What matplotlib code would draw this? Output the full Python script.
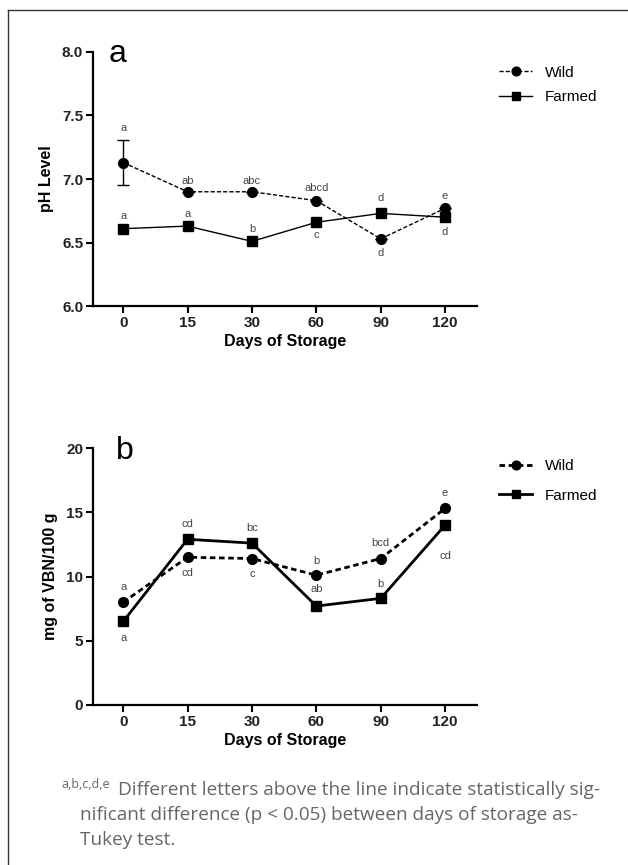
import numpy as np
import matplotlib.pyplot as plt
from matplotlib.lines import Line2D

plt.rcParams['font.family'] = ['Liberation Sans', 'DejaVu Sans']

# Datos
days = ['0', '15', '30', '60', '90', '120']

ph_wild = [7.13, 6.90, 6.90, 6.83, 6.53, 6.77]
ph_wild_err = [0.18, 0, 0, 0, 0, 0]
ph_farmed = [6.61, 6.63, 6.51, 6.66, 6.73, 6.70]
ph_wild_letters = ['a', 'ab', 'abc', 'abcd', 'd', 'e']
ph_farmed_letters = ['a', 'a', 'b', 'c', 'd', 'd']

vbn_wild = [8.0, 11.5, 11.4, 10.1, 11.4, 15.3]
vbn_farmed = [6.5, 12.9, 12.6, 7.7, 8.3, 14.0]
vbn_wild_letters = ['a', 'cd', 'c', 'b', 'bcd', 'e']
vbn_farmed_letters = ['a', 'cd', 'bc', 'ab', 'b', 'cd']

x = np.arange(len(days))
lbl_color = '#444444'

fig = plt.figure(figsize=(6.28, 8.65), dpi=100)


def style_axes(ax, ylim, yticks, fmt):
    ax.set_xlim(-0.47, 5.5)
    ax.set_ylim(*ylim)
    ax.set_xticks(x)
    ax.set_xticklabels(days)
    ax.set_yticks(yticks)
    ax.set_yticklabels([fmt.format(v) for v in yticks])
    for s in ['top', 'right']:
        ax.spines[s].set_visible(False)
    for s in ['left', 'bottom']:
        ax.spines[s].set_linewidth(1.6)
    ax.tick_params(width=1.5, length=5, direction='out', labelsize=11, pad=2)
    for t in ax.get_xticklabels() + ax.get_yticklabels():
        t.set_fontweight('bold')
        t.set_color('#222222')
    ax.set_xlabel('Days of Storage', fontsize=11.5, fontweight='bold', labelpad=3)


def put_letters(ax, ys, letters, offsets):
    for xi, yi, txt, off in zip(x, ys, letters, offsets):
        ax.annotate(txt, (xi, yi), xytext=(0, off), textcoords='offset points',
                    ha='center', va='center', fontsize=8, color=lbl_color)


# Panel a
ax1 = fig.add_axes([0.148, 0.646, 0.612, 0.294])
ax1.errorbar(x, ph_wild, yerr=ph_wild_err, color='black', lw=1, ls=(0, (3, 1.5)),
             marker='o', ms=7, capsize=4, elinewidth=1)
ax1.plot(x, ph_farmed, color='black', lw=1, marker='s', ms=7)
style_axes(ax1, (6.0, 8.0), [6.0, 6.5, 7.0, 7.5, 8.0], '{:.1f}')
ax1.set_ylabel('pH Level', fontsize=11.5, fontweight='bold', labelpad=6)
put_letters(ax1, ph_wild, ph_wild_letters, [25, 8, 8, 9, -10, 9])
put_letters(ax1, ph_farmed, ph_farmed_letters, [9, 9, 9, -9, 11, -11])
ax1.text(0.04, 0.99, 'a', transform=ax1.transAxes, fontsize=23, va='center')
h_wild = Line2D([], [], color='black', lw=1, ls=(0, (3, 1.5)), marker='o', ms=7)
h_farm = Line2D([], [], color='black', lw=1, marker='s', ms=7)
ax1.legend([h_wild, h_farm], ['Wild', 'Farmed'], loc='upper left',
           bbox_to_anchor=(1.02, 1.0), frameon=False, fontsize=11,
           handlelength=2.2, labelspacing=0.7, markerscale=0.9)

# Panel b
ax2 = fig.add_axes([0.148, 0.185, 0.612, 0.297])
ax2.plot(x, vbn_wild, color='black', lw=2, ls=(0, (2, 1.3)), marker='o', ms=7, label='Wild')
ax2.plot(x, vbn_farmed, color='black', lw=2, marker='s', ms=7, label='Farmed')
style_axes(ax2, (0, 20), [0, 5, 10, 15, 20], '{:d}')
ax2.set_ylabel('mg of VBN/100 g', fontsize=11.5, fontweight='bold', labelpad=6)
put_letters(ax2, vbn_wild, vbn_wild_letters, [11, -11, -11, 10, 11, 11])
put_letters(ax2, vbn_farmed, vbn_farmed_letters, [-12, 11, 11, 12, 10, -22])
ax2.text(0.06, 0.99, 'b', transform=ax2.transAxes, fontsize=23, va='center')
ax2.legend(loc='upper left', bbox_to_anchor=(1.02, 1.01), frameon=False,
           fontsize=11, handlelength=2.2, labelspacing=1.0, markerscale=0.9)

# Marco
fx, fy = 8 / 628, 1 - 10 / 865
fig.add_artist(Line2D([fx, fx], [0, fy], color='#333333', lw=1))
fig.add_artist(Line2D([fx, 1], [fy, fy], color='#333333', lw=1))

# Nota al pie
cap_color = '#666666'
cap_font = ['Open Sans', 'DejaVu Sans']
fig.text(61 / 628, 1 - 785 / 865, 'a,b,c,d,e', fontsize=9, color=cap_color,
         family=cap_font, va='center')
fig.text(118 / 628, 1 - 790 / 865,
         'Different letters above the line indicate statistically sig-',
         fontsize=13.7, color=cap_color, family=cap_font, va='center')
fig.text(80 / 628, 1 - 815 / 865,
         'nificant difference (p < 0.05) between days of storage as-',
         fontsize=13.7, color=cap_color, family=cap_font, va='center')
fig.text(80 / 628, 1 - 840 / 865, 'Tukey test.',
         fontsize=13.7, color=cap_color, family=cap_font, va='center')

fig.savefig('out.png', dpi=100)
